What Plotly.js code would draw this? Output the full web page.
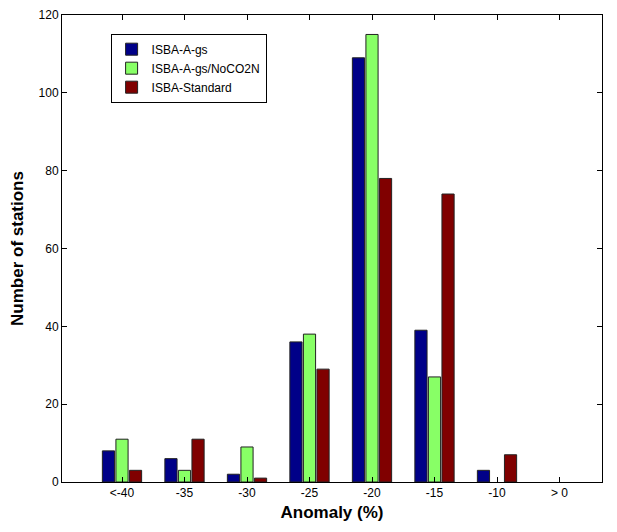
<!DOCTYPE html>
<html>
<head>
<meta charset="utf-8">
<script src="https://cdn.plot.ly/plotly-3.0.1.min.js"></script>
<style>html,body{margin:0;padding:0;background:#fff;}#chart{width:617px;height:532px;}</style>
</head>
<body>
<div id="chart"></div>
<script>
  // Station counts per anomaly bin.
  const bins = ["<-40", "-35", "-30", "-25", "-20", "-15", "-10", "> 0"];
  const agsCounts = [8, 6, 2, 36, 109, 39, 3, 0];
  const noco2Counts = [11, 3, 9, 38, 115, 27, 0, 0];
  const standardCounts = [3, 11, 1, 29, 78, 74, 7, 0];
  const yTicks = [0, 20, 40, 60, 80, 100, 120];

  const positions = bins.map((_, i) => i);

  function series(name, values, color) {
    return {
      type: "bar",
      name: name,
      x: positions,
      y: values,
      // empty bins get no outline, so nothing is drawn there
      marker: { color: color, line: { color: "#222", width: values.map((v) => (v > 0 ? 1 : 0)) } },
      hoverinfo: "y+name",
    };
  }

  const traces = [
    series("ISBA-A-gs", agsCounts, "#000088"),
    series("ISBA-A-gs/NoCO2N", noco2Counts, "#88ff66"),
    series("ISBA-Standard", standardCounts, "#800000"),
  ];

  const axisBase = {
    showline: true,
    mirror: "ticks",
    linecolor: "#000",
    linewidth: 1,
    ticks: "inside",
    ticklen: 5,
    tickcolor: "#000",
    showgrid: false,
    zeroline: false,
    tickfont: { family: "Liberation Sans, Arial, sans-serif", size: 12, color: "#000" },
  };

  const layout = {
    width: 617,
    height: 532,
    paper_bgcolor: "#fff",
    plot_bgcolor: "#fff",
    margin: { l: 62, r: 15, t: 15, b: 50 },
    barmode: "group",
    bargap: 0.35,
    bargroupgap: 0.1,
    showlegend: true,
    legend: {
      x: 0.09, y: 0.96, xanchor: "left", yanchor: "top",
      bgcolor: "#fff", bordercolor: "#000", borderwidth: 1,
      font: { family: "Liberation Sans, Arial, sans-serif", size: 12, color: "#000" },
    },
    xaxis: Object.assign({}, axisBase, {
      range: [-0.96, 7.68],
      tickmode: "array",
      tickvals: positions,
      ticktext: bins,
      title: { text: "<b>Anomaly (%)</b>", standoff: 6,
        font: { family: "Liberation Sans, Arial, sans-serif", size: 17, color: "#000" } },
    }),
    yaxis: Object.assign({}, axisBase, {
      range: [0, 120],
      tickmode: "array",
      tickvals: yTicks,
      title: { text: "<b>Number of stations</b>", standoff: 10,
        font: { family: "Liberation Sans, Arial, sans-serif", size: 17, color: "#000" } },
    }),
  };

  Plotly.newPlot("chart", traces, layout, { displayModeBar: false, staticPlot: true });
</script>
</body>
</html>
